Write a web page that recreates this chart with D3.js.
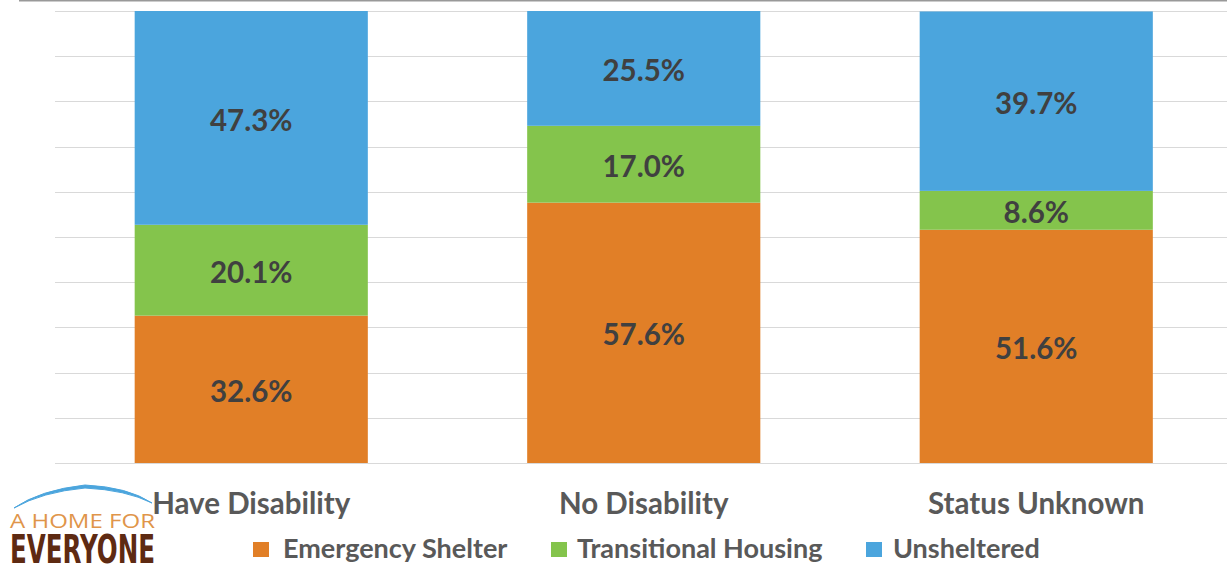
<!DOCTYPE html>
<html><head><meta charset="utf-8">
<script src="https://cdn.jsdelivr.net/npm/d3@7"></script>
<style>body{margin:0;background:#fff;} svg{display:block;}</style>
</head><body>
<svg id="c" width="1227" height="564"></svg>
<script>
const categories = ["Have Disability", "No Disability", "Status Unknown"];
const seriesNames = ["Emergency Shelter", "Transitional Housing", "Unsheltered"];
const emergencyShelter = [32.6, 57.6, 51.6];
const transitionalHousing = [20.1, 17.0, 8.6];
const unsheltered = [47.3, 25.5, 39.7];
const yTicks = [0,10,20,30,40,50,60,70,80,90,100];
const colors = ["#E17F27", "#84C44C", "#4BA5DD"];

(function(){
const svg = d3.select("#c");
const mLeft = 55, mRight = 1232.5, mTop = 11, mBottom = 463;
const x = d3.scaleBand().domain(categories).range([mLeft, mRight]).paddingInner(0.406).paddingOuter(0.203);
const y = d3.scaleLinear().domain([0, 100]).range([mBottom, mTop]);
const FONT = "Lato, 'Open Sans', sans-serif";

svg.append("line").attr("x1", 19).attr("x2", 1227).attr("y1", 0.75).attr("y2", 0.75)
  .attr("stroke", "#999").attr("stroke-width", 1.5);

svg.append("g").selectAll("line").data(yTicks).join("line")
  .attr("x1", mLeft).attr("x2", 1227)
  .attr("y1", d => Math.round(y(d)) + 0.5).attr("y2", d => Math.round(y(d)) + 0.5)
  .attr("stroke", "#d9d9d9").attr("stroke-width", 1);

const rows = categories.map((c, i) => ({cat: c, vals: [emergencyShelter[i], transitionalHousing[i], unsheltered[i]]}));
const segs = [];
rows.forEach(r => {
  let acc = 0;
  r.vals.forEach((v, k) => { segs.push({cat: r.cat, k, v, y0: acc, y1: acc + v}); acc += v; });
});

svg.append("g").selectAll("rect").data(segs).join("rect")
  .attr("x", d => x(d.cat)).attr("width", x.bandwidth())
  .attr("y", d => y(Math.min(d.y1, 100))).attr("height", d => y(d.y0) - y(Math.min(d.y1, 100)))
  .attr("fill", d => colors[d.k]);

svg.append("g").selectAll("text").data(segs).join("text")
  .attr("x", d => x(d.cat) + x.bandwidth() / 2)
  .attr("y", d => (y(d.y0) + y(Math.min(d.y1, 100))) / 2 + 2)
  .attr("dy", "0.36em").attr("text-anchor", "middle")
  .attr("font-family", FONT).attr("font-weight", "bold").attr("font-size", 29.5)
  .attr("fill", "#404040")
  .text(d => d.v.toFixed(1) + "%");

svg.append("g").selectAll("text").data(categories).join("text")
  .attr("x", d => x(d) + x.bandwidth() / 2).attr("y", 514)
  .attr("text-anchor", "middle")
  .attr("font-family", FONT).attr("font-weight", "bold").attr("font-size", 29.5)
  .attr("fill", "#595959").text(d => d);

const squareX = [253, 551, 866];
const textX = [283, 577, 893];
const lg = svg.append("g").selectAll("g").data(seriesNames).join("g");
lg.append("rect").attr("x", (d, i) => squareX[i]).attr("y", 542).attr("width", 16).attr("height", 15)
  .attr("fill", (d, i) => colors[i]);
lg.append("text").attr("x", (d, i) => textX[i]).attr("y", 558)
  .attr("font-family", FONT).attr("font-weight", "bold").attr("font-size", 27)
  .attr("fill", "#595959").text(d => d);

const logo = svg.append("g");
logo.append("path").attr("d", "M 14 508 Q 40 490 85 485 Q 128 487 152 503 Q 126 490 85 488 Q 42 492 14 508 Z")
  .attr("fill", "#4BA5DD").attr("stroke", "#4BA5DD").attr("stroke-width", 1);
logo.append("text").attr("x", 10).attr("y", 528)
  .attr("font-family", "'Open Sans', sans-serif").attr("font-size", 19.5).attr("fill", "#E0954A")
  .attr("textLength", 145).attr("lengthAdjust", "spacingAndGlyphs").text("A HOME FOR");
logo.append("text").attr("x", 10).attr("y", 563)
  .attr("font-family", "'DejaVu Sans Condensed', 'Liberation Sans Narrow', sans-serif").attr("font-weight", "bold").attr("font-size", 39).attr("fill", "#5E2A12")
  .attr("textLength", 145).attr("lengthAdjust", "spacingAndGlyphs").text("EVERYONE");
})();
</script>
</body></html>
